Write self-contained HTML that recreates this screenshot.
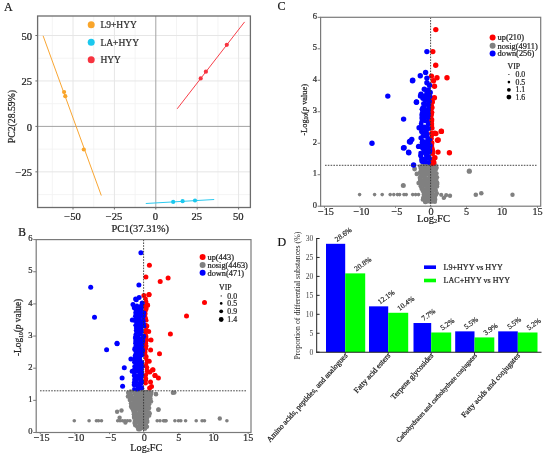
<!DOCTYPE html>
<html><head><meta charset="utf-8"><style>
html,body{margin:0;padding:0;background:#fff;}
svg{display:block;font-family:"Liberation Serif",serif;will-change:transform;filter:blur(0.3px);}
text{stroke:#222;stroke-width:0.22px;}
</style></head><body>
<svg width="550" height="457" viewBox="0 0 550 457">
<rect width="550" height="457" fill="#fff"/>
<line x1="52.30" y1="16.00" x2="52.30" y2="207.50" stroke="#f1f1f1" stroke-width="0.8" stroke-linecap="butt"/>
<line x1="93.70" y1="16.00" x2="93.70" y2="207.50" stroke="#f1f1f1" stroke-width="0.8" stroke-linecap="butt"/>
<line x1="135.10" y1="16.00" x2="135.10" y2="207.50" stroke="#f1f1f1" stroke-width="0.8" stroke-linecap="butt"/>
<line x1="176.50" y1="16.00" x2="176.50" y2="207.50" stroke="#f1f1f1" stroke-width="0.8" stroke-linecap="butt"/>
<line x1="217.90" y1="16.00" x2="217.90" y2="207.50" stroke="#f1f1f1" stroke-width="0.8" stroke-linecap="butt"/>
<line x1="37.60" y1="58.23" x2="250.40" y2="58.23" stroke="#f1f1f1" stroke-width="0.8" stroke-linecap="butt"/>
<line x1="37.60" y1="103.68" x2="250.40" y2="103.68" stroke="#f1f1f1" stroke-width="0.8" stroke-linecap="butt"/>
<line x1="37.60" y1="149.12" x2="250.40" y2="149.12" stroke="#f1f1f1" stroke-width="0.8" stroke-linecap="butt"/>
<line x1="37.60" y1="194.57" x2="250.40" y2="194.57" stroke="#f1f1f1" stroke-width="0.8" stroke-linecap="butt"/>
<line x1="73.00" y1="16.00" x2="73.00" y2="207.50" stroke="#e6e6e6" stroke-width="1" stroke-linecap="butt"/>
<line x1="114.40" y1="16.00" x2="114.40" y2="207.50" stroke="#e6e6e6" stroke-width="1" stroke-linecap="butt"/>
<line x1="197.20" y1="16.00" x2="197.20" y2="207.50" stroke="#e6e6e6" stroke-width="1" stroke-linecap="butt"/>
<line x1="238.60" y1="16.00" x2="238.60" y2="207.50" stroke="#e6e6e6" stroke-width="1" stroke-linecap="butt"/>
<line x1="37.60" y1="35.50" x2="250.40" y2="35.50" stroke="#e6e6e6" stroke-width="1" stroke-linecap="butt"/>
<line x1="37.60" y1="80.95" x2="250.40" y2="80.95" stroke="#e6e6e6" stroke-width="1" stroke-linecap="butt"/>
<line x1="37.60" y1="171.85" x2="250.40" y2="171.85" stroke="#e6e6e6" stroke-width="1" stroke-linecap="butt"/>
<line x1="155.80" y1="16.00" x2="155.80" y2="207.50" stroke="#a3a3a3" stroke-width="1" stroke-linecap="butt"/>
<line x1="37.60" y1="126.40" x2="250.40" y2="126.40" stroke="#a3a3a3" stroke-width="1" stroke-linecap="butt"/>
<line x1="43.10" y1="35.80" x2="101.30" y2="195.50" stroke="#f9a633" stroke-width="1" stroke-linecap="butt"/>
<line x1="177.20" y1="108.80" x2="244.60" y2="21.90" stroke="#f8404a" stroke-width="1" stroke-linecap="butt"/>
<line x1="145.80" y1="203.50" x2="214.20" y2="199.50" stroke="#2ccaf0" stroke-width="1" stroke-linecap="butt"/>
<circle cx="64.10" cy="92.00" r="2.10" fill="#f9a52b"/>
<circle cx="65.30" cy="96.20" r="2.10" fill="#f9a52b"/>
<circle cx="83.80" cy="149.50" r="2.10" fill="#f9a52b"/>
<circle cx="226.80" cy="44.80" r="2.10" fill="#f7333f"/>
<circle cx="205.90" cy="71.70" r="2.10" fill="#f7333f"/>
<circle cx="200.70" cy="78.40" r="2.10" fill="#f7333f"/>
<circle cx="173.20" cy="201.90" r="2.10" fill="#1bc8ee"/>
<circle cx="182.60" cy="201.20" r="2.10" fill="#1bc8ee"/>
<circle cx="195.00" cy="200.50" r="2.10" fill="#1bc8ee"/>
<rect x="37.60" y="16.00" width="212.80" height="191.50" fill="none" stroke="#6c6c6c" stroke-width="1.3"/>
<line x1="35.40" y1="35.50" x2="37.60" y2="35.50" stroke="#6c6c6c" stroke-width="1" stroke-linecap="butt"/>
<text x="32.10" y="39.70" font-size="10.6" text-anchor="end" fill="#222">50</text>
<line x1="35.40" y1="80.95" x2="37.60" y2="80.95" stroke="#6c6c6c" stroke-width="1" stroke-linecap="butt"/>
<text x="32.10" y="85.15" font-size="10.6" text-anchor="end" fill="#222">25</text>
<line x1="35.40" y1="126.40" x2="37.60" y2="126.40" stroke="#6c6c6c" stroke-width="1" stroke-linecap="butt"/>
<text x="32.10" y="130.60" font-size="10.6" text-anchor="end" fill="#222">0</text>
<line x1="35.40" y1="171.85" x2="37.60" y2="171.85" stroke="#6c6c6c" stroke-width="1" stroke-linecap="butt"/>
<text x="32.10" y="176.05" font-size="10.6" text-anchor="end" fill="#222">&#8722;25</text>
<line x1="73.00" y1="207.50" x2="73.00" y2="209.50" stroke="#6c6c6c" stroke-width="1" stroke-linecap="butt"/>
<text x="72.60" y="219.80" font-size="10.6" text-anchor="middle" fill="#222">&#8722;50</text>
<line x1="114.40" y1="207.50" x2="114.40" y2="209.50" stroke="#6c6c6c" stroke-width="1" stroke-linecap="butt"/>
<text x="114.00" y="219.80" font-size="10.6" text-anchor="middle" fill="#222">&#8722;25</text>
<line x1="155.80" y1="207.50" x2="155.80" y2="209.50" stroke="#6c6c6c" stroke-width="1" stroke-linecap="butt"/>
<text x="155.40" y="219.80" font-size="10.6" text-anchor="middle" fill="#222">0</text>
<line x1="197.20" y1="207.50" x2="197.20" y2="209.50" stroke="#6c6c6c" stroke-width="1" stroke-linecap="butt"/>
<text x="196.80" y="219.80" font-size="10.6" text-anchor="middle" fill="#222">25</text>
<line x1="238.60" y1="207.50" x2="238.60" y2="209.50" stroke="#6c6c6c" stroke-width="1" stroke-linecap="butt"/>
<text x="238.20" y="219.80" font-size="10.6" text-anchor="middle" fill="#222">50</text>
<circle cx="91.20" cy="24.80" r="3.50" fill="#f9a52b"/>
<text x="100.40" y="28.10" font-size="9.5" text-anchor="start" fill="#333">L9+HYY</text>
<circle cx="91.20" cy="42.30" r="3.50" fill="#1bc8ee"/>
<text x="100.40" y="45.60" font-size="9.5" text-anchor="start" fill="#333">LA+HYY</text>
<circle cx="91.20" cy="59.80" r="3.50" fill="#f7333f"/>
<text x="100.40" y="63.10" font-size="9.5" text-anchor="start" fill="#333">HYY</text>
<text x="111.50" y="231.80" font-size="10.5" text-anchor="start" fill="#222" textLength="57.40" lengthAdjust="spacingAndGlyphs">PC1(37.31%)</text>
<text x="14.60" y="116.60" font-size="9.8" text-anchor="middle" fill="#222" transform="rotate(-90 14.60 116.60)" textLength="53.40" lengthAdjust="spacingAndGlyphs">PC2(28.59%)</text>
<text x="3.90" y="11.20" font-size="12" text-anchor="start" fill="#111">A</text>
<line x1="317.60" y1="206.20" x2="320.60" y2="206.20" stroke="#7a7a7a" stroke-width="1" stroke-linecap="butt"/>
<text x="317.00" y="207.80" font-size="8.5" text-anchor="end" fill="#333">0</text>
<line x1="317.60" y1="174.72" x2="320.60" y2="174.72" stroke="#7a7a7a" stroke-width="1" stroke-linecap="butt"/>
<text x="317.00" y="176.32" font-size="8.5" text-anchor="end" fill="#333">1</text>
<line x1="317.60" y1="143.24" x2="320.60" y2="143.24" stroke="#7a7a7a" stroke-width="1" stroke-linecap="butt"/>
<text x="317.00" y="144.84" font-size="8.5" text-anchor="end" fill="#333">2</text>
<line x1="317.60" y1="111.76" x2="320.60" y2="111.76" stroke="#7a7a7a" stroke-width="1" stroke-linecap="butt"/>
<text x="317.00" y="113.36" font-size="8.5" text-anchor="end" fill="#333">3</text>
<line x1="317.60" y1="80.28" x2="320.60" y2="80.28" stroke="#7a7a7a" stroke-width="1" stroke-linecap="butt"/>
<text x="317.00" y="81.88" font-size="8.5" text-anchor="end" fill="#333">4</text>
<line x1="317.60" y1="48.80" x2="320.60" y2="48.80" stroke="#7a7a7a" stroke-width="1" stroke-linecap="butt"/>
<text x="317.00" y="50.40" font-size="8.5" text-anchor="end" fill="#333">5</text>
<line x1="317.60" y1="17.32" x2="320.60" y2="17.32" stroke="#7a7a7a" stroke-width="1" stroke-linecap="butt"/>
<text x="317.00" y="18.92" font-size="8.5" text-anchor="end" fill="#333">6</text>
<line x1="324.50" y1="206.20" x2="324.50" y2="207.80" stroke="#7a7a7a" stroke-width="1" stroke-linecap="butt"/>
<text x="325.90" y="214.90" font-size="10.2" text-anchor="middle" fill="#333">&#8722;15</text>
<line x1="360.00" y1="206.20" x2="360.00" y2="207.80" stroke="#7a7a7a" stroke-width="1" stroke-linecap="butt"/>
<text x="361.40" y="214.90" font-size="10.2" text-anchor="middle" fill="#333">&#8722;10</text>
<line x1="395.50" y1="206.20" x2="395.50" y2="207.80" stroke="#7a7a7a" stroke-width="1" stroke-linecap="butt"/>
<text x="396.90" y="214.90" font-size="10.2" text-anchor="middle" fill="#333">&#8722;5</text>
<line x1="431.00" y1="206.20" x2="431.00" y2="207.80" stroke="#7a7a7a" stroke-width="1" stroke-linecap="butt"/>
<text x="431.00" y="214.90" font-size="10.2" text-anchor="middle" fill="#333">0</text>
<line x1="466.50" y1="206.20" x2="466.50" y2="207.80" stroke="#7a7a7a" stroke-width="1" stroke-linecap="butt"/>
<text x="466.50" y="214.90" font-size="10.2" text-anchor="middle" fill="#333">5</text>
<line x1="502.00" y1="206.20" x2="502.00" y2="207.80" stroke="#7a7a7a" stroke-width="1" stroke-linecap="butt"/>
<text x="502.00" y="214.90" font-size="10.2" text-anchor="middle" fill="#333">10</text>
<line x1="537.50" y1="206.20" x2="537.50" y2="207.80" stroke="#7a7a7a" stroke-width="1" stroke-linecap="butt"/>
<text x="537.50" y="214.90" font-size="10.2" text-anchor="middle" fill="#333">15</text>
<circle cx="419.94" cy="166.24" r="2.00" fill="#808080"/>
<circle cx="422.89" cy="165.29" r="2.25" fill="#808080"/>
<circle cx="425.59" cy="165.31" r="2.01" fill="#808080"/>
<circle cx="428.82" cy="165.40" r="2.08" fill="#808080"/>
<circle cx="431.62" cy="166.12" r="2.18" fill="#808080"/>
<circle cx="432.77" cy="166.57" r="2.12" fill="#808080"/>
<circle cx="435.49" cy="165.69" r="2.42" fill="#808080"/>
<circle cx="420.69" cy="168.48" r="2.17" fill="#808080"/>
<circle cx="422.46" cy="167.56" r="2.07" fill="#808080"/>
<circle cx="425.64" cy="167.96" r="2.29" fill="#808080"/>
<circle cx="428.04" cy="168.73" r="2.36" fill="#808080"/>
<circle cx="431.08" cy="168.30" r="2.46" fill="#808080"/>
<circle cx="433.22" cy="169.03" r="2.02" fill="#808080"/>
<circle cx="436.57" cy="167.71" r="2.24" fill="#808080"/>
<circle cx="420.89" cy="170.95" r="2.28" fill="#808080"/>
<circle cx="422.92" cy="170.84" r="2.30" fill="#808080"/>
<circle cx="425.75" cy="171.07" r="2.50" fill="#808080"/>
<circle cx="428.68" cy="169.82" r="2.36" fill="#808080"/>
<circle cx="431.81" cy="171.04" r="2.12" fill="#808080"/>
<circle cx="433.89" cy="169.76" r="2.22" fill="#808080"/>
<circle cx="435.61" cy="169.82" r="2.40" fill="#808080"/>
<circle cx="420.27" cy="172.61" r="2.46" fill="#808080"/>
<circle cx="423.20" cy="172.87" r="2.46" fill="#808080"/>
<circle cx="426.46" cy="172.43" r="2.19" fill="#808080"/>
<circle cx="429.09" cy="173.52" r="2.04" fill="#808080"/>
<circle cx="430.65" cy="172.36" r="2.23" fill="#808080"/>
<circle cx="433.30" cy="171.99" r="2.20" fill="#808080"/>
<circle cx="436.38" cy="173.51" r="2.35" fill="#808080"/>
<circle cx="420.93" cy="175.33" r="1.99" fill="#808080"/>
<circle cx="423.79" cy="175.65" r="2.41" fill="#808080"/>
<circle cx="425.78" cy="174.41" r="2.32" fill="#808080"/>
<circle cx="427.85" cy="174.58" r="2.05" fill="#808080"/>
<circle cx="430.42" cy="174.25" r="2.04" fill="#808080"/>
<circle cx="433.52" cy="174.29" r="2.46" fill="#808080"/>
<circle cx="435.78" cy="174.65" r="2.15" fill="#808080"/>
<circle cx="420.19" cy="177.87" r="2.53" fill="#808080"/>
<circle cx="423.37" cy="176.65" r="2.01" fill="#808080"/>
<circle cx="425.62" cy="177.84" r="2.05" fill="#808080"/>
<circle cx="429.32" cy="177.36" r="2.04" fill="#808080"/>
<circle cx="430.44" cy="177.35" r="2.52" fill="#808080"/>
<circle cx="434.11" cy="176.93" r="2.17" fill="#808080"/>
<circle cx="436.83" cy="177.36" r="2.40" fill="#808080"/>
<circle cx="420.41" cy="180.07" r="2.52" fill="#808080"/>
<circle cx="423.95" cy="180.08" r="2.38" fill="#808080"/>
<circle cx="426.09" cy="179.34" r="1.97" fill="#808080"/>
<circle cx="428.30" cy="179.19" r="2.35" fill="#808080"/>
<circle cx="431.17" cy="180.27" r="2.52" fill="#808080"/>
<circle cx="433.64" cy="179.12" r="2.09" fill="#808080"/>
<circle cx="435.98" cy="179.77" r="2.47" fill="#808080"/>
<circle cx="420.88" cy="182.08" r="2.41" fill="#808080"/>
<circle cx="423.77" cy="182.49" r="2.40" fill="#808080"/>
<circle cx="426.08" cy="181.32" r="2.41" fill="#808080"/>
<circle cx="429.20" cy="182.59" r="2.18" fill="#808080"/>
<circle cx="432.03" cy="182.19" r="2.05" fill="#808080"/>
<circle cx="433.36" cy="182.48" r="2.42" fill="#808080"/>
<circle cx="437.04" cy="182.60" r="2.33" fill="#808080"/>
<circle cx="421.05" cy="183.51" r="1.96" fill="#808080"/>
<circle cx="423.82" cy="184.14" r="2.49" fill="#808080"/>
<circle cx="426.77" cy="184.62" r="2.08" fill="#808080"/>
<circle cx="428.44" cy="183.68" r="2.29" fill="#808080"/>
<circle cx="431.25" cy="183.51" r="2.48" fill="#808080"/>
<circle cx="433.91" cy="184.23" r="2.47" fill="#808080"/>
<circle cx="437.24" cy="184.10" r="2.26" fill="#808080"/>
<circle cx="420.55" cy="186.26" r="2.06" fill="#808080"/>
<circle cx="424.40" cy="185.83" r="2.23" fill="#808080"/>
<circle cx="426.61" cy="186.08" r="2.25" fill="#808080"/>
<circle cx="429.57" cy="185.73" r="2.28" fill="#808080"/>
<circle cx="431.36" cy="186.79" r="2.25" fill="#808080"/>
<circle cx="434.73" cy="187.02" r="2.21" fill="#808080"/>
<circle cx="436.93" cy="186.38" r="2.35" fill="#808080"/>
<circle cx="421.90" cy="188.58" r="2.50" fill="#808080"/>
<circle cx="425.05" cy="189.33" r="2.10" fill="#808080"/>
<circle cx="427.75" cy="189.16" r="2.03" fill="#808080"/>
<circle cx="429.55" cy="187.94" r="2.09" fill="#808080"/>
<circle cx="432.52" cy="189.07" r="2.47" fill="#808080"/>
<circle cx="435.19" cy="188.88" r="2.04" fill="#808080"/>
<circle cx="423.12" cy="190.43" r="2.50" fill="#808080"/>
<circle cx="424.95" cy="191.67" r="2.43" fill="#808080"/>
<circle cx="427.46" cy="190.91" r="2.15" fill="#808080"/>
<circle cx="429.88" cy="191.24" r="1.97" fill="#808080"/>
<circle cx="432.68" cy="190.11" r="2.15" fill="#808080"/>
<circle cx="435.39" cy="190.18" r="2.52" fill="#808080"/>
<circle cx="423.65" cy="192.51" r="2.11" fill="#808080"/>
<circle cx="425.95" cy="192.78" r="2.03" fill="#808080"/>
<circle cx="428.76" cy="193.65" r="2.10" fill="#808080"/>
<circle cx="431.37" cy="193.26" r="2.36" fill="#808080"/>
<circle cx="432.59" cy="193.45" r="2.20" fill="#808080"/>
<circle cx="436.60" cy="193.36" r="2.42" fill="#808080"/>
<circle cx="424.00" cy="194.71" r="2.45" fill="#808080"/>
<circle cx="425.77" cy="195.49" r="2.49" fill="#808080"/>
<circle cx="428.03" cy="195.45" r="2.09" fill="#808080"/>
<circle cx="430.69" cy="194.69" r="2.07" fill="#808080"/>
<circle cx="433.52" cy="195.82" r="2.12" fill="#808080"/>
<circle cx="435.91" cy="195.16" r="1.97" fill="#808080"/>
<circle cx="423.18" cy="198.04" r="2.27" fill="#808080"/>
<circle cx="426.52" cy="198.36" r="2.02" fill="#808080"/>
<circle cx="429.05" cy="197.66" r="2.43" fill="#808080"/>
<circle cx="431.77" cy="197.97" r="2.52" fill="#808080"/>
<circle cx="434.89" cy="198.00" r="2.32" fill="#808080"/>
<circle cx="424.24" cy="199.22" r="2.03" fill="#808080"/>
<circle cx="427.47" cy="199.54" r="2.05" fill="#808080"/>
<circle cx="430.23" cy="200.52" r="2.34" fill="#808080"/>
<circle cx="431.87" cy="199.60" r="2.22" fill="#808080"/>
<circle cx="434.80" cy="199.55" r="2.51" fill="#808080"/>
<circle cx="425.40" cy="201.78" r="2.51" fill="#808080"/>
<circle cx="427.69" cy="201.39" r="2.17" fill="#808080"/>
<circle cx="430.53" cy="201.71" r="2.25" fill="#808080"/>
<circle cx="432.74" cy="201.54" r="2.18" fill="#808080"/>
<circle cx="434.96" cy="201.88" r="2.09" fill="#808080"/>
<circle cx="359.60" cy="194.60" r="1.80" fill="#808080"/>
<circle cx="374.60" cy="194.60" r="1.80" fill="#808080"/>
<circle cx="382.20" cy="194.60" r="1.80" fill="#808080"/>
<circle cx="390.20" cy="194.60" r="1.80" fill="#808080"/>
<circle cx="393.80" cy="194.60" r="1.80" fill="#808080"/>
<circle cx="397.50" cy="194.60" r="1.80" fill="#808080"/>
<circle cx="399.60" cy="194.60" r="1.80" fill="#808080"/>
<circle cx="404.00" cy="194.60" r="1.80" fill="#808080"/>
<circle cx="406.20" cy="194.60" r="1.80" fill="#808080"/>
<circle cx="412.70" cy="194.60" r="1.80" fill="#808080"/>
<circle cx="415.60" cy="194.60" r="1.80" fill="#808080"/>
<circle cx="418.50" cy="194.60" r="1.80" fill="#808080"/>
<circle cx="441.20" cy="194.80" r="2.10" fill="#808080"/>
<circle cx="446.20" cy="195.20" r="2.10" fill="#808080"/>
<circle cx="450.00" cy="195.80" r="2.20" fill="#808080"/>
<circle cx="512.50" cy="194.70" r="2.20" fill="#808080"/>
<circle cx="475.80" cy="194.70" r="2.30" fill="#808080"/>
<circle cx="481.30" cy="193.20" r="2.30" fill="#808080"/>
<circle cx="403.30" cy="185.60" r="2.50" fill="#808080"/>
<circle cx="414.60" cy="169.00" r="2.40" fill="#808080"/>
<circle cx="416.90" cy="173.90" r="2.40" fill="#808080"/>
<circle cx="418.60" cy="183.10" r="2.30" fill="#808080"/>
<circle cx="443.70" cy="198.00" r="2.10" fill="#808080"/>
<circle cx="422.60" cy="199.70" r="2.00" fill="#808080"/>
<circle cx="469.30" cy="171.20" r="2.60" fill="#808080"/>
<circle cx="444.20" cy="197.60" r="2.00" fill="#808080"/>
<circle cx="431.44" cy="98.35" r="2.54" fill="#ff0000"/>
<circle cx="431.95" cy="100.19" r="2.33" fill="#ff0000"/>
<circle cx="431.78" cy="105.25" r="2.15" fill="#ff0000"/>
<circle cx="432.04" cy="107.57" r="2.58" fill="#ff0000"/>
<circle cx="431.01" cy="109.78" r="2.44" fill="#ff0000"/>
<circle cx="431.96" cy="112.55" r="2.49" fill="#ff0000"/>
<circle cx="431.81" cy="114.71" r="2.27" fill="#ff0000"/>
<circle cx="431.07" cy="116.60" r="2.19" fill="#ff0000"/>
<circle cx="431.68" cy="119.32" r="2.52" fill="#ff0000"/>
<circle cx="431.61" cy="120.79" r="2.62" fill="#ff0000"/>
<circle cx="431.65" cy="123.89" r="2.54" fill="#ff0000"/>
<circle cx="432.00" cy="125.84" r="2.17" fill="#ff0000"/>
<circle cx="432.01" cy="128.12" r="2.59" fill="#ff0000"/>
<circle cx="431.57" cy="133.21" r="2.55" fill="#ff0000"/>
<circle cx="431.92" cy="135.78" r="2.17" fill="#ff0000"/>
<circle cx="431.44" cy="138.27" r="2.32" fill="#ff0000"/>
<circle cx="431.13" cy="139.67" r="2.29" fill="#ff0000"/>
<circle cx="432.22" cy="142.88" r="2.31" fill="#ff0000"/>
<circle cx="432.04" cy="144.93" r="2.20" fill="#ff0000"/>
<circle cx="431.81" cy="148.00" r="2.71" fill="#ff0000"/>
<circle cx="432.31" cy="150.13" r="2.73" fill="#ff0000"/>
<circle cx="432.18" cy="151.62" r="2.72" fill="#ff0000"/>
<circle cx="432.75" cy="153.87" r="2.45" fill="#ff0000"/>
<circle cx="433.36" cy="159.09" r="2.68" fill="#ff0000"/>
<circle cx="432.67" cy="161.98" r="2.43" fill="#ff0000"/>
<circle cx="432.49" cy="163.76" r="2.41" fill="#ff0000"/>
<circle cx="435.80" cy="29.60" r="2.70" fill="#ff0000"/>
<circle cx="432.80" cy="51.60" r="2.70" fill="#ff0000"/>
<circle cx="435.70" cy="65.30" r="2.70" fill="#ff0000"/>
<circle cx="431.50" cy="76.10" r="2.70" fill="#ff0000"/>
<circle cx="437.00" cy="77.70" r="2.70" fill="#ff0000"/>
<circle cx="447.00" cy="77.70" r="2.70" fill="#ff0000"/>
<circle cx="433.50" cy="80.70" r="2.70" fill="#ff0000"/>
<circle cx="434.50" cy="86.20" r="2.70" fill="#ff0000"/>
<circle cx="434.40" cy="97.80" r="2.70" fill="#ff0000"/>
<circle cx="432.30" cy="101.90" r="2.70" fill="#ff0000"/>
<circle cx="441.30" cy="131.30" r="2.70" fill="#ff0000"/>
<circle cx="434.90" cy="133.30" r="2.70" fill="#ff0000"/>
<circle cx="437.50" cy="140.20" r="2.70" fill="#ff0000"/>
<circle cx="438.00" cy="152.10" r="2.70" fill="#ff0000"/>
<circle cx="449.40" cy="152.70" r="2.70" fill="#ff0000"/>
<circle cx="434.90" cy="157.80" r="2.70" fill="#ff0000"/>
<circle cx="433.80" cy="162.40" r="2.70" fill="#ff0000"/>
<circle cx="441.40" cy="131.40" r="2.70" fill="#ff0000"/>
<circle cx="438.20" cy="140.00" r="2.70" fill="#ff0000"/>
<circle cx="435.90" cy="133.60" r="2.70" fill="#ff0000"/>
<circle cx="422.85" cy="95.72" r="2.32" fill="#0000ff"/>
<circle cx="425.30" cy="96.45" r="2.65" fill="#0000ff"/>
<circle cx="429.67" cy="96.38" r="2.69" fill="#0000ff"/>
<circle cx="423.01" cy="98.16" r="2.75" fill="#0000ff"/>
<circle cx="425.69" cy="98.22" r="2.30" fill="#0000ff"/>
<circle cx="427.92" cy="98.95" r="2.30" fill="#0000ff"/>
<circle cx="425.26" cy="100.72" r="2.24" fill="#0000ff"/>
<circle cx="429.20" cy="101.39" r="2.63" fill="#0000ff"/>
<circle cx="423.46" cy="103.84" r="2.47" fill="#0000ff"/>
<circle cx="424.61" cy="103.47" r="2.41" fill="#0000ff"/>
<circle cx="428.38" cy="102.66" r="2.16" fill="#0000ff"/>
<circle cx="425.14" cy="105.11" r="2.31" fill="#0000ff"/>
<circle cx="428.75" cy="104.96" r="2.53" fill="#0000ff"/>
<circle cx="422.53" cy="107.55" r="2.23" fill="#0000ff"/>
<circle cx="424.61" cy="108.48" r="2.44" fill="#0000ff"/>
<circle cx="428.56" cy="108.64" r="2.41" fill="#0000ff"/>
<circle cx="421.82" cy="109.36" r="2.34" fill="#0000ff"/>
<circle cx="424.60" cy="109.66" r="2.48" fill="#0000ff"/>
<circle cx="428.22" cy="109.94" r="2.38" fill="#0000ff"/>
<circle cx="422.09" cy="112.15" r="2.16" fill="#0000ff"/>
<circle cx="425.86" cy="111.77" r="2.44" fill="#0000ff"/>
<circle cx="428.37" cy="111.93" r="2.29" fill="#0000ff"/>
<circle cx="422.07" cy="114.69" r="2.72" fill="#0000ff"/>
<circle cx="425.63" cy="113.93" r="2.15" fill="#0000ff"/>
<circle cx="428.37" cy="114.74" r="2.49" fill="#0000ff"/>
<circle cx="422.00" cy="117.91" r="2.64" fill="#0000ff"/>
<circle cx="425.75" cy="116.69" r="2.19" fill="#0000ff"/>
<circle cx="427.64" cy="117.47" r="2.71" fill="#0000ff"/>
<circle cx="422.40" cy="119.97" r="2.41" fill="#0000ff"/>
<circle cx="424.01" cy="120.00" r="2.27" fill="#0000ff"/>
<circle cx="421.73" cy="121.17" r="2.28" fill="#0000ff"/>
<circle cx="425.14" cy="121.14" r="2.17" fill="#0000ff"/>
<circle cx="427.63" cy="121.64" r="2.26" fill="#0000ff"/>
<circle cx="421.14" cy="123.83" r="2.41" fill="#0000ff"/>
<circle cx="428.11" cy="124.14" r="2.27" fill="#0000ff"/>
<circle cx="422.78" cy="126.91" r="2.32" fill="#0000ff"/>
<circle cx="424.65" cy="126.85" r="2.39" fill="#0000ff"/>
<circle cx="427.65" cy="127.30" r="2.27" fill="#0000ff"/>
<circle cx="421.58" cy="128.74" r="2.55" fill="#0000ff"/>
<circle cx="425.11" cy="129.32" r="2.44" fill="#0000ff"/>
<circle cx="428.12" cy="128.55" r="2.64" fill="#0000ff"/>
<circle cx="421.29" cy="131.70" r="2.31" fill="#0000ff"/>
<circle cx="426.63" cy="130.74" r="2.39" fill="#0000ff"/>
<circle cx="422.52" cy="132.95" r="2.37" fill="#0000ff"/>
<circle cx="425.27" cy="132.94" r="2.16" fill="#0000ff"/>
<circle cx="426.92" cy="134.30" r="2.68" fill="#0000ff"/>
<circle cx="422.53" cy="136.71" r="2.33" fill="#0000ff"/>
<circle cx="425.12" cy="136.38" r="2.14" fill="#0000ff"/>
<circle cx="426.82" cy="135.71" r="2.33" fill="#0000ff"/>
<circle cx="420.66" cy="137.89" r="2.34" fill="#0000ff"/>
<circle cx="427.79" cy="137.76" r="2.35" fill="#0000ff"/>
<circle cx="422.07" cy="140.51" r="2.16" fill="#0000ff"/>
<circle cx="423.96" cy="141.39" r="2.25" fill="#0000ff"/>
<circle cx="427.60" cy="139.79" r="2.38" fill="#0000ff"/>
<circle cx="430.07" cy="139.80" r="2.15" fill="#0000ff"/>
<circle cx="422.19" cy="142.54" r="2.59" fill="#0000ff"/>
<circle cx="423.85" cy="142.57" r="2.72" fill="#0000ff"/>
<circle cx="426.41" cy="143.37" r="2.32" fill="#0000ff"/>
<circle cx="428.64" cy="143.44" r="2.70" fill="#0000ff"/>
<circle cx="422.19" cy="144.47" r="2.27" fill="#0000ff"/>
<circle cx="424.91" cy="146.15" r="2.37" fill="#0000ff"/>
<circle cx="426.66" cy="145.32" r="2.71" fill="#0000ff"/>
<circle cx="430.03" cy="145.76" r="2.64" fill="#0000ff"/>
<circle cx="421.53" cy="147.37" r="2.32" fill="#0000ff"/>
<circle cx="424.55" cy="146.92" r="2.25" fill="#0000ff"/>
<circle cx="426.29" cy="146.89" r="2.15" fill="#0000ff"/>
<circle cx="429.13" cy="148.54" r="2.68" fill="#0000ff"/>
<circle cx="423.24" cy="149.30" r="2.44" fill="#0000ff"/>
<circle cx="426.60" cy="149.55" r="2.39" fill="#0000ff"/>
<circle cx="429.70" cy="150.47" r="2.65" fill="#0000ff"/>
<circle cx="420.56" cy="152.99" r="2.31" fill="#0000ff"/>
<circle cx="423.71" cy="152.80" r="2.25" fill="#0000ff"/>
<circle cx="426.18" cy="151.75" r="2.68" fill="#0000ff"/>
<circle cx="429.03" cy="152.19" r="2.75" fill="#0000ff"/>
<circle cx="420.71" cy="155.28" r="2.53" fill="#0000ff"/>
<circle cx="426.55" cy="155.30" r="2.65" fill="#0000ff"/>
<circle cx="420.77" cy="156.39" r="2.24" fill="#0000ff"/>
<circle cx="427.32" cy="156.84" r="2.67" fill="#0000ff"/>
<circle cx="428.81" cy="157.57" r="2.72" fill="#0000ff"/>
<circle cx="421.27" cy="159.64" r="2.26" fill="#0000ff"/>
<circle cx="423.15" cy="158.89" r="2.28" fill="#0000ff"/>
<circle cx="426.77" cy="158.89" r="2.13" fill="#0000ff"/>
<circle cx="429.52" cy="158.86" r="2.32" fill="#0000ff"/>
<circle cx="421.58" cy="161.86" r="2.16" fill="#0000ff"/>
<circle cx="423.56" cy="161.86" r="2.52" fill="#0000ff"/>
<circle cx="425.84" cy="162.12" r="2.38" fill="#0000ff"/>
<circle cx="428.80" cy="162.59" r="2.32" fill="#0000ff"/>
<circle cx="426.90" cy="51.60" r="2.70" fill="#0000ff"/>
<circle cx="387.80" cy="96.10" r="2.70" fill="#0000ff"/>
<circle cx="372.00" cy="143.20" r="2.70" fill="#0000ff"/>
<circle cx="412.50" cy="80.80" r="2.70" fill="#0000ff"/>
<circle cx="410.30" cy="142.00" r="2.70" fill="#0000ff"/>
<circle cx="416.50" cy="102.00" r="2.70" fill="#0000ff"/>
<circle cx="425.60" cy="72.40" r="2.70" fill="#0000ff"/>
<circle cx="420.30" cy="75.70" r="2.70" fill="#0000ff"/>
<circle cx="412.70" cy="80.30" r="2.70" fill="#0000ff"/>
<circle cx="426.90" cy="78.10" r="2.70" fill="#0000ff"/>
<circle cx="426.90" cy="82.70" r="2.70" fill="#0000ff"/>
<circle cx="429.50" cy="85.30" r="2.70" fill="#0000ff"/>
<circle cx="424.30" cy="89.20" r="2.70" fill="#0000ff"/>
<circle cx="428.20" cy="89.90" r="2.70" fill="#0000ff"/>
<circle cx="421.00" cy="94.10" r="2.70" fill="#0000ff"/>
<circle cx="426.90" cy="93.20" r="2.70" fill="#0000ff"/>
<circle cx="430.20" cy="92.50" r="2.70" fill="#0000ff"/>
<circle cx="426.90" cy="97.80" r="2.70" fill="#0000ff"/>
<circle cx="416.40" cy="102.30" r="2.70" fill="#0000ff"/>
<circle cx="403.60" cy="119.10" r="2.70" fill="#0000ff"/>
<circle cx="420.50" cy="95.90" r="2.70" fill="#0000ff"/>
<circle cx="419.10" cy="127.70" r="2.70" fill="#0000ff"/>
<circle cx="411.80" cy="139.50" r="2.70" fill="#0000ff"/>
<circle cx="409.50" cy="141.80" r="2.70" fill="#0000ff"/>
<circle cx="404.10" cy="147.70" r="2.70" fill="#0000ff"/>
<circle cx="408.60" cy="152.30" r="2.70" fill="#0000ff"/>
<circle cx="418.60" cy="146.40" r="2.70" fill="#0000ff"/>
<circle cx="413.60" cy="165.00" r="2.70" fill="#0000ff"/>
<circle cx="408.80" cy="152.70" r="2.70" fill="#0000ff"/>
<circle cx="403.50" cy="147.90" r="2.70" fill="#0000ff"/>
<circle cx="410.10" cy="141.30" r="2.70" fill="#0000ff"/>
<line x1="430.60" y1="17.30" x2="430.60" y2="206.20" stroke="#333" stroke-width="0.9" stroke-dasharray="1.6 1.2" stroke-linecap="butt"/>
<line x1="325.00" y1="165.30" x2="536.50" y2="165.30" stroke="#333" stroke-width="0.9" stroke-dasharray="1.6 1.2" stroke-linecap="butt"/>
<rect x="320.60" y="17.30" width="220.10" height="188.90" fill="none" stroke="#7a7a7a" stroke-width="1.2"/>
<circle cx="492.60" cy="37.60" r="3.00" fill="#ff0000"/>
<text x="497.50" y="40.40" font-size="8.4" text-anchor="start" fill="#222">up(210)</text>
<circle cx="492.60" cy="45.70" r="3.00" fill="#808080"/>
<text x="497.50" y="48.50" font-size="8.4" text-anchor="start" fill="#222">nosig(4911)</text>
<circle cx="492.60" cy="53.50" r="3.00" fill="#0000ff"/>
<text x="497.50" y="56.30" font-size="8.4" text-anchor="start" fill="#222">down(256)</text>
<text x="513.80" y="68.90" font-size="7.8" text-anchor="middle" fill="#222">VIP</text>
<circle cx="508.90" cy="74.50" r="0.60" fill="#000"/>
<text x="515.50" y="77.10" font-size="7.8" text-anchor="start" fill="#222">0.0</text>
<circle cx="508.90" cy="82.10" r="1.30" fill="#000"/>
<text x="515.50" y="84.70" font-size="7.8" text-anchor="start" fill="#222">0.5</text>
<circle cx="508.90" cy="89.80" r="1.90" fill="#000"/>
<text x="515.50" y="92.40" font-size="7.8" text-anchor="start" fill="#222">1.1</text>
<circle cx="508.90" cy="97.10" r="2.40" fill="#000"/>
<text x="515.50" y="99.70" font-size="7.8" text-anchor="start" fill="#222">1.6</text>
<text x="417.00" y="222.00" font-size="10" text-anchor="start" fill="#222" textLength="33.00" lengthAdjust="spacingAndGlyphs">Log<tspan font-size="5.8" dy="0.8">2</tspan><tspan dy="-0.8">FC</tspan></text>
<text x="306.80" y="109.80" font-size="8.35" text-anchor="middle" fill="#222" transform="rotate(-90 306.80 109.80)">-Log<tspan font-size="5.5" dy="1.5">10</tspan><tspan dy="-1.5">(</tspan><tspan font-style="italic">p</tspan> value)</text>
<text x="277.60" y="10.30" font-size="12" text-anchor="start" fill="#111">C</text>
<line x1="33.20" y1="432.50" x2="36.20" y2="432.50" stroke="#7a7a7a" stroke-width="1" stroke-linecap="butt"/>
<text x="32.60" y="434.10" font-size="8.5" text-anchor="end" fill="#333">0</text>
<line x1="33.20" y1="400.35" x2="36.20" y2="400.35" stroke="#7a7a7a" stroke-width="1" stroke-linecap="butt"/>
<text x="32.60" y="401.95" font-size="8.5" text-anchor="end" fill="#333">1</text>
<line x1="33.20" y1="368.20" x2="36.20" y2="368.20" stroke="#7a7a7a" stroke-width="1" stroke-linecap="butt"/>
<text x="32.60" y="369.80" font-size="8.5" text-anchor="end" fill="#333">2</text>
<line x1="33.20" y1="336.05" x2="36.20" y2="336.05" stroke="#7a7a7a" stroke-width="1" stroke-linecap="butt"/>
<text x="32.60" y="337.65" font-size="8.5" text-anchor="end" fill="#333">3</text>
<line x1="33.20" y1="303.90" x2="36.20" y2="303.90" stroke="#7a7a7a" stroke-width="1" stroke-linecap="butt"/>
<text x="32.60" y="305.50" font-size="8.5" text-anchor="end" fill="#333">4</text>
<line x1="33.20" y1="271.75" x2="36.20" y2="271.75" stroke="#7a7a7a" stroke-width="1" stroke-linecap="butt"/>
<text x="32.60" y="273.35" font-size="8.5" text-anchor="end" fill="#333">5</text>
<line x1="33.20" y1="239.60" x2="36.20" y2="239.60" stroke="#7a7a7a" stroke-width="1" stroke-linecap="butt"/>
<text x="32.60" y="241.20" font-size="8.5" text-anchor="end" fill="#333">6</text>
<line x1="40.25" y1="432.50" x2="40.25" y2="434.10" stroke="#7a7a7a" stroke-width="1" stroke-linecap="butt"/>
<text x="41.65" y="441.20" font-size="10.2" text-anchor="middle" fill="#333">&#8722;15</text>
<line x1="74.90" y1="432.50" x2="74.90" y2="434.10" stroke="#7a7a7a" stroke-width="1" stroke-linecap="butt"/>
<text x="76.30" y="441.20" font-size="10.2" text-anchor="middle" fill="#333">&#8722;10</text>
<line x1="109.55" y1="432.50" x2="109.55" y2="434.10" stroke="#7a7a7a" stroke-width="1" stroke-linecap="butt"/>
<text x="110.95" y="441.20" font-size="10.2" text-anchor="middle" fill="#333">&#8722;5</text>
<line x1="144.20" y1="432.50" x2="144.20" y2="434.10" stroke="#7a7a7a" stroke-width="1" stroke-linecap="butt"/>
<text x="144.20" y="441.20" font-size="10.2" text-anchor="middle" fill="#333">0</text>
<line x1="178.85" y1="432.50" x2="178.85" y2="434.10" stroke="#7a7a7a" stroke-width="1" stroke-linecap="butt"/>
<text x="178.85" y="441.20" font-size="10.2" text-anchor="middle" fill="#333">5</text>
<line x1="213.50" y1="432.50" x2="213.50" y2="434.10" stroke="#7a7a7a" stroke-width="1" stroke-linecap="butt"/>
<text x="213.50" y="441.20" font-size="10.2" text-anchor="middle" fill="#333">10</text>
<line x1="248.15" y1="432.50" x2="248.15" y2="434.10" stroke="#7a7a7a" stroke-width="1" stroke-linecap="butt"/>
<text x="248.15" y="441.20" font-size="10.2" text-anchor="middle" fill="#333">15</text>
<circle cx="128.10" cy="392.68" r="2.13" fill="#808080"/>
<circle cx="130.64" cy="391.50" r="2.15" fill="#808080"/>
<circle cx="133.47" cy="391.35" r="2.04" fill="#808080"/>
<circle cx="136.00" cy="392.31" r="1.89" fill="#808080"/>
<circle cx="138.74" cy="392.25" r="2.21" fill="#808080"/>
<circle cx="139.72" cy="392.05" r="1.90" fill="#808080"/>
<circle cx="142.59" cy="391.25" r="2.13" fill="#808080"/>
<circle cx="146.05" cy="392.03" r="2.22" fill="#808080"/>
<circle cx="148.26" cy="391.93" r="2.02" fill="#808080"/>
<circle cx="151.29" cy="392.54" r="2.26" fill="#808080"/>
<circle cx="128.44" cy="393.84" r="1.91" fill="#808080"/>
<circle cx="131.21" cy="394.73" r="2.08" fill="#808080"/>
<circle cx="134.43" cy="393.38" r="1.99" fill="#808080"/>
<circle cx="136.32" cy="394.94" r="2.09" fill="#808080"/>
<circle cx="139.08" cy="394.62" r="2.02" fill="#808080"/>
<circle cx="141.10" cy="394.92" r="2.29" fill="#808080"/>
<circle cx="143.46" cy="393.54" r="1.90" fill="#808080"/>
<circle cx="145.85" cy="394.27" r="2.12" fill="#808080"/>
<circle cx="149.24" cy="393.58" r="2.22" fill="#808080"/>
<circle cx="151.24" cy="393.72" r="2.02" fill="#808080"/>
<circle cx="130.23" cy="396.04" r="2.36" fill="#808080"/>
<circle cx="132.07" cy="396.92" r="2.22" fill="#808080"/>
<circle cx="135.52" cy="395.89" r="2.01" fill="#808080"/>
<circle cx="136.97" cy="396.02" r="1.91" fill="#808080"/>
<circle cx="139.87" cy="395.94" r="2.20" fill="#808080"/>
<circle cx="142.17" cy="397.08" r="2.14" fill="#808080"/>
<circle cx="145.33" cy="395.84" r="1.95" fill="#808080"/>
<circle cx="147.75" cy="395.95" r="1.97" fill="#808080"/>
<circle cx="150.44" cy="395.86" r="2.39" fill="#808080"/>
<circle cx="130.45" cy="398.40" r="1.93" fill="#808080"/>
<circle cx="133.53" cy="398.11" r="2.26" fill="#808080"/>
<circle cx="135.80" cy="398.68" r="2.03" fill="#808080"/>
<circle cx="138.14" cy="397.84" r="2.00" fill="#808080"/>
<circle cx="140.85" cy="398.71" r="2.02" fill="#808080"/>
<circle cx="142.31" cy="397.75" r="2.02" fill="#808080"/>
<circle cx="144.58" cy="398.01" r="2.07" fill="#808080"/>
<circle cx="147.20" cy="398.30" r="2.36" fill="#808080"/>
<circle cx="150.54" cy="398.83" r="2.19" fill="#808080"/>
<circle cx="129.95" cy="399.93" r="2.37" fill="#808080"/>
<circle cx="133.93" cy="399.93" r="2.22" fill="#808080"/>
<circle cx="136.06" cy="400.41" r="2.42" fill="#808080"/>
<circle cx="138.27" cy="401.08" r="2.37" fill="#808080"/>
<circle cx="141.02" cy="401.17" r="2.37" fill="#808080"/>
<circle cx="143.49" cy="401.34" r="2.35" fill="#808080"/>
<circle cx="146.16" cy="401.28" r="2.19" fill="#808080"/>
<circle cx="148.01" cy="400.83" r="2.20" fill="#808080"/>
<circle cx="150.92" cy="401.49" r="2.35" fill="#808080"/>
<circle cx="130.92" cy="403.25" r="2.19" fill="#808080"/>
<circle cx="134.14" cy="402.21" r="2.28" fill="#808080"/>
<circle cx="136.26" cy="402.84" r="2.00" fill="#808080"/>
<circle cx="138.60" cy="403.06" r="2.38" fill="#808080"/>
<circle cx="140.32" cy="402.56" r="2.24" fill="#808080"/>
<circle cx="143.07" cy="403.52" r="2.23" fill="#808080"/>
<circle cx="146.73" cy="402.60" r="2.24" fill="#808080"/>
<circle cx="148.49" cy="403.36" r="2.37" fill="#808080"/>
<circle cx="131.33" cy="405.18" r="2.04" fill="#808080"/>
<circle cx="134.01" cy="405.59" r="2.34" fill="#808080"/>
<circle cx="137.24" cy="404.69" r="1.96" fill="#808080"/>
<circle cx="138.66" cy="404.59" r="2.10" fill="#808080"/>
<circle cx="141.51" cy="404.75" r="2.33" fill="#808080"/>
<circle cx="143.94" cy="404.37" r="1.89" fill="#808080"/>
<circle cx="145.78" cy="405.38" r="2.18" fill="#808080"/>
<circle cx="149.48" cy="404.28" r="1.94" fill="#808080"/>
<circle cx="131.53" cy="407.75" r="2.00" fill="#808080"/>
<circle cx="134.07" cy="407.43" r="2.12" fill="#808080"/>
<circle cx="137.54" cy="407.72" r="2.40" fill="#808080"/>
<circle cx="139.31" cy="407.19" r="1.97" fill="#808080"/>
<circle cx="142.25" cy="407.57" r="1.97" fill="#808080"/>
<circle cx="144.55" cy="407.54" r="2.16" fill="#808080"/>
<circle cx="147.70" cy="407.05" r="2.31" fill="#808080"/>
<circle cx="149.13" cy="407.92" r="2.27" fill="#808080"/>
<circle cx="133.00" cy="409.60" r="2.37" fill="#808080"/>
<circle cx="135.68" cy="410.01" r="2.31" fill="#808080"/>
<circle cx="138.01" cy="409.64" r="1.98" fill="#808080"/>
<circle cx="141.08" cy="409.63" r="2.26" fill="#808080"/>
<circle cx="143.71" cy="410.17" r="2.41" fill="#808080"/>
<circle cx="146.04" cy="409.11" r="2.37" fill="#808080"/>
<circle cx="147.83" cy="408.73" r="2.11" fill="#808080"/>
<circle cx="134.28" cy="411.55" r="1.89" fill="#808080"/>
<circle cx="135.65" cy="412.05" r="1.97" fill="#808080"/>
<circle cx="139.31" cy="411.00" r="1.95" fill="#808080"/>
<circle cx="141.71" cy="412.12" r="2.25" fill="#808080"/>
<circle cx="143.84" cy="412.29" r="1.92" fill="#808080"/>
<circle cx="146.39" cy="411.24" r="2.27" fill="#808080"/>
<circle cx="148.88" cy="412.12" r="2.18" fill="#808080"/>
<circle cx="133.98" cy="414.30" r="2.37" fill="#808080"/>
<circle cx="137.24" cy="414.50" r="2.16" fill="#808080"/>
<circle cx="138.70" cy="413.81" r="2.15" fill="#808080"/>
<circle cx="140.92" cy="414.50" r="2.15" fill="#808080"/>
<circle cx="144.66" cy="413.85" r="2.14" fill="#808080"/>
<circle cx="145.98" cy="413.81" r="2.10" fill="#808080"/>
<circle cx="149.85" cy="413.38" r="2.13" fill="#808080"/>
<circle cx="134.29" cy="416.43" r="2.37" fill="#808080"/>
<circle cx="136.60" cy="415.43" r="2.21" fill="#808080"/>
<circle cx="138.80" cy="416.37" r="1.88" fill="#808080"/>
<circle cx="141.46" cy="416.22" r="2.05" fill="#808080"/>
<circle cx="144.58" cy="415.29" r="2.27" fill="#808080"/>
<circle cx="146.91" cy="415.53" r="1.98" fill="#808080"/>
<circle cx="149.29" cy="415.73" r="2.10" fill="#808080"/>
<circle cx="134.07" cy="417.63" r="2.22" fill="#808080"/>
<circle cx="137.16" cy="418.66" r="2.21" fill="#808080"/>
<circle cx="139.18" cy="418.49" r="2.32" fill="#808080"/>
<circle cx="141.82" cy="417.80" r="2.38" fill="#808080"/>
<circle cx="145.41" cy="418.72" r="1.94" fill="#808080"/>
<circle cx="147.47" cy="417.72" r="1.92" fill="#808080"/>
<circle cx="134.70" cy="420.74" r="1.94" fill="#808080"/>
<circle cx="137.62" cy="419.50" r="1.98" fill="#808080"/>
<circle cx="140.49" cy="421.02" r="1.93" fill="#808080"/>
<circle cx="142.74" cy="420.28" r="2.25" fill="#808080"/>
<circle cx="144.14" cy="419.64" r="1.89" fill="#808080"/>
<circle cx="147.35" cy="420.38" r="1.95" fill="#808080"/>
<circle cx="134.71" cy="422.99" r="2.41" fill="#808080"/>
<circle cx="137.04" cy="421.75" r="2.39" fill="#808080"/>
<circle cx="140.61" cy="422.17" r="2.13" fill="#808080"/>
<circle cx="142.58" cy="422.61" r="1.88" fill="#808080"/>
<circle cx="145.74" cy="421.94" r="2.12" fill="#808080"/>
<circle cx="147.54" cy="421.96" r="1.96" fill="#808080"/>
<circle cx="135.32" cy="425.25" r="2.31" fill="#808080"/>
<circle cx="139.17" cy="424.83" r="2.09" fill="#808080"/>
<circle cx="141.10" cy="425.40" r="2.31" fill="#808080"/>
<circle cx="144.25" cy="425.02" r="2.30" fill="#808080"/>
<circle cx="145.94" cy="425.26" r="2.35" fill="#808080"/>
<circle cx="137.43" cy="427.22" r="2.09" fill="#808080"/>
<circle cx="138.81" cy="426.55" r="2.13" fill="#808080"/>
<circle cx="141.77" cy="427.02" r="2.21" fill="#808080"/>
<circle cx="145.21" cy="427.07" r="2.06" fill="#808080"/>
<circle cx="147.11" cy="426.85" r="2.08" fill="#808080"/>
<circle cx="138.38" cy="429.30" r="2.29" fill="#808080"/>
<circle cx="139.89" cy="429.16" r="2.28" fill="#808080"/>
<circle cx="142.99" cy="428.26" r="1.98" fill="#808080"/>
<circle cx="145.01" cy="428.58" r="2.37" fill="#808080"/>
<circle cx="74.30" cy="420.70" r="1.80" fill="#808080"/>
<circle cx="89.10" cy="420.70" r="1.80" fill="#808080"/>
<circle cx="96.40" cy="420.70" r="1.80" fill="#808080"/>
<circle cx="98.50" cy="420.70" r="1.80" fill="#808080"/>
<circle cx="101.50" cy="420.70" r="1.80" fill="#808080"/>
<circle cx="117.70" cy="420.70" r="1.80" fill="#808080"/>
<circle cx="120.00" cy="420.70" r="1.80" fill="#808080"/>
<circle cx="122.50" cy="420.70" r="1.80" fill="#808080"/>
<circle cx="125.00" cy="420.70" r="1.80" fill="#808080"/>
<circle cx="127.50" cy="420.70" r="1.80" fill="#808080"/>
<circle cx="130.00" cy="420.70" r="1.80" fill="#808080"/>
<circle cx="164.30" cy="420.70" r="1.80" fill="#808080"/>
<circle cx="165.50" cy="420.70" r="1.80" fill="#808080"/>
<circle cx="174.90" cy="420.70" r="1.80" fill="#808080"/>
<circle cx="178.50" cy="420.70" r="1.80" fill="#808080"/>
<circle cx="180.80" cy="420.70" r="1.80" fill="#808080"/>
<circle cx="185.60" cy="420.70" r="1.80" fill="#808080"/>
<circle cx="196.20" cy="420.70" r="1.80" fill="#808080"/>
<circle cx="202.10" cy="420.70" r="1.80" fill="#808080"/>
<circle cx="204.50" cy="420.70" r="1.80" fill="#808080"/>
<circle cx="226.90" cy="420.70" r="1.80" fill="#808080"/>
<circle cx="157.20" cy="420.70" r="1.80" fill="#808080"/>
<circle cx="160.00" cy="420.70" r="1.80" fill="#808080"/>
<circle cx="163.50" cy="420.70" r="1.80" fill="#808080"/>
<circle cx="166.10" cy="420.70" r="1.80" fill="#808080"/>
<circle cx="127.90" cy="396.50" r="2.20" fill="#808080"/>
<circle cx="155.90" cy="393.90" r="2.20" fill="#808080"/>
<circle cx="172.90" cy="392.80" r="2.20" fill="#808080"/>
<circle cx="117.10" cy="411.70" r="2.20" fill="#808080"/>
<circle cx="121.50" cy="410.50" r="2.20" fill="#808080"/>
<circle cx="158.50" cy="409.40" r="2.20" fill="#808080"/>
<circle cx="119.60" cy="417.80" r="2.20" fill="#808080"/>
<circle cx="125.40" cy="422.50" r="2.20" fill="#808080"/>
<circle cx="131.10" cy="406.60" r="2.20" fill="#808080"/>
<circle cx="133.60" cy="411.70" r="2.20" fill="#808080"/>
<circle cx="174.40" cy="392.60" r="2.20" fill="#808080"/>
<circle cx="156.00" cy="394.30" r="2.20" fill="#808080"/>
<circle cx="158.40" cy="409.70" r="2.20" fill="#808080"/>
<circle cx="219.80" cy="418.50" r="2.20" fill="#808080"/>
<circle cx="145.61" cy="298.75" r="2.28" fill="#ff0000"/>
<circle cx="146.14" cy="301.67" r="2.30" fill="#ff0000"/>
<circle cx="144.93" cy="305.21" r="2.05" fill="#ff0000"/>
<circle cx="145.15" cy="306.69" r="2.31" fill="#ff0000"/>
<circle cx="146.42" cy="308.75" r="2.26" fill="#ff0000"/>
<circle cx="145.51" cy="310.71" r="2.33" fill="#ff0000"/>
<circle cx="145.40" cy="313.57" r="2.13" fill="#ff0000"/>
<circle cx="145.36" cy="314.67" r="2.05" fill="#ff0000"/>
<circle cx="145.61" cy="318.21" r="2.39" fill="#ff0000"/>
<circle cx="146.59" cy="320.46" r="2.00" fill="#ff0000"/>
<circle cx="145.81" cy="324.86" r="2.10" fill="#ff0000"/>
<circle cx="146.57" cy="326.63" r="2.22" fill="#ff0000"/>
<circle cx="146.08" cy="330.01" r="2.31" fill="#ff0000"/>
<circle cx="145.46" cy="332.08" r="2.26" fill="#ff0000"/>
<circle cx="145.86" cy="335.24" r="2.22" fill="#ff0000"/>
<circle cx="146.10" cy="337.02" r="2.40" fill="#ff0000"/>
<circle cx="146.79" cy="340.05" r="2.38" fill="#ff0000"/>
<circle cx="145.39" cy="342.13" r="2.41" fill="#ff0000"/>
<circle cx="145.80" cy="343.31" r="2.35" fill="#ff0000"/>
<circle cx="146.18" cy="346.06" r="2.39" fill="#ff0000"/>
<circle cx="145.65" cy="348.79" r="2.48" fill="#ff0000"/>
<circle cx="145.37" cy="352.01" r="2.20" fill="#ff0000"/>
<circle cx="145.45" cy="354.62" r="2.00" fill="#ff0000"/>
<circle cx="146.38" cy="356.81" r="2.32" fill="#ff0000"/>
<circle cx="146.08" cy="358.44" r="2.15" fill="#ff0000"/>
<circle cx="146.67" cy="360.39" r="2.02" fill="#ff0000"/>
<circle cx="146.34" cy="363.68" r="2.08" fill="#ff0000"/>
<circle cx="145.77" cy="365.92" r="2.17" fill="#ff0000"/>
<circle cx="146.95" cy="367.32" r="2.27" fill="#ff0000"/>
<circle cx="146.85" cy="369.66" r="2.17" fill="#ff0000"/>
<circle cx="146.79" cy="371.28" r="2.00" fill="#ff0000"/>
<circle cx="146.18" cy="374.42" r="2.13" fill="#ff0000"/>
<circle cx="145.54" cy="375.84" r="2.34" fill="#ff0000"/>
<circle cx="145.92" cy="378.83" r="2.35" fill="#ff0000"/>
<circle cx="145.67" cy="380.42" r="2.37" fill="#ff0000"/>
<circle cx="145.64" cy="383.16" r="2.28" fill="#ff0000"/>
<circle cx="149.40" cy="265.20" r="2.50" fill="#ff0000"/>
<circle cx="145.90" cy="277.00" r="2.50" fill="#ff0000"/>
<circle cx="160.20" cy="281.50" r="2.50" fill="#ff0000"/>
<circle cx="168.10" cy="278.00" r="2.50" fill="#ff0000"/>
<circle cx="148.90" cy="294.70" r="2.50" fill="#ff0000"/>
<circle cx="204.50" cy="302.50" r="2.50" fill="#ff0000"/>
<circle cx="186.50" cy="316.00" r="2.50" fill="#ff0000"/>
<circle cx="170.40" cy="334.00" r="2.50" fill="#ff0000"/>
<circle cx="147.60" cy="305.20" r="2.50" fill="#ff0000"/>
<circle cx="143.90" cy="295.50" r="2.50" fill="#ff0000"/>
<circle cx="149.10" cy="294.60" r="2.50" fill="#ff0000"/>
<circle cx="147.40" cy="305.10" r="2.50" fill="#ff0000"/>
<circle cx="159.50" cy="353.80" r="2.50" fill="#ff0000"/>
<circle cx="152.50" cy="369.90" r="2.50" fill="#ff0000"/>
<circle cx="158.40" cy="378.10" r="2.50" fill="#ff0000"/>
<circle cx="155.10" cy="375.40" r="2.50" fill="#ff0000"/>
<circle cx="149.20" cy="361.30" r="2.50" fill="#ff0000"/>
<circle cx="153.00" cy="369.80" r="2.50" fill="#ff0000"/>
<circle cx="154.90" cy="375.60" r="2.50" fill="#ff0000"/>
<circle cx="148.70" cy="331.40" r="2.50" fill="#ff0000"/>
<circle cx="146.80" cy="326.10" r="2.50" fill="#ff0000"/>
<circle cx="150.50" cy="382.00" r="2.50" fill="#ff0000"/>
<circle cx="151.50" cy="386.50" r="2.50" fill="#ff0000"/>
<circle cx="149.80" cy="372.00" r="2.50" fill="#ff0000"/>
<circle cx="150.60" cy="350.00" r="2.50" fill="#ff0000"/>
<circle cx="151.00" cy="340.00" r="2.50" fill="#ff0000"/>
<circle cx="149.60" cy="388.00" r="2.50" fill="#ff0000"/>
<circle cx="136.98" cy="305.69" r="2.14" fill="#0000ff"/>
<circle cx="139.70" cy="306.63" r="2.10" fill="#0000ff"/>
<circle cx="141.28" cy="305.78" r="2.18" fill="#0000ff"/>
<circle cx="135.81" cy="308.28" r="2.41" fill="#0000ff"/>
<circle cx="139.34" cy="308.28" r="2.06" fill="#0000ff"/>
<circle cx="141.91" cy="307.83" r="1.97" fill="#0000ff"/>
<circle cx="136.17" cy="310.46" r="2.51" fill="#0000ff"/>
<circle cx="139.08" cy="309.65" r="2.27" fill="#0000ff"/>
<circle cx="140.43" cy="309.68" r="2.38" fill="#0000ff"/>
<circle cx="135.23" cy="312.74" r="2.04" fill="#0000ff"/>
<circle cx="138.63" cy="312.12" r="2.08" fill="#0000ff"/>
<circle cx="140.93" cy="312.95" r="2.18" fill="#0000ff"/>
<circle cx="144.14" cy="312.80" r="2.24" fill="#0000ff"/>
<circle cx="136.05" cy="315.03" r="2.48" fill="#0000ff"/>
<circle cx="138.71" cy="314.97" r="2.45" fill="#0000ff"/>
<circle cx="141.23" cy="315.32" r="2.51" fill="#0000ff"/>
<circle cx="143.23" cy="315.04" r="2.42" fill="#0000ff"/>
<circle cx="135.36" cy="316.31" r="2.38" fill="#0000ff"/>
<circle cx="139.96" cy="316.40" r="2.20" fill="#0000ff"/>
<circle cx="143.74" cy="316.17" r="2.13" fill="#0000ff"/>
<circle cx="135.52" cy="319.49" r="2.06" fill="#0000ff"/>
<circle cx="137.72" cy="319.18" r="2.48" fill="#0000ff"/>
<circle cx="139.66" cy="318.55" r="2.08" fill="#0000ff"/>
<circle cx="143.14" cy="319.20" r="2.08" fill="#0000ff"/>
<circle cx="135.01" cy="320.70" r="2.39" fill="#0000ff"/>
<circle cx="137.94" cy="321.73" r="2.23" fill="#0000ff"/>
<circle cx="140.98" cy="321.89" r="2.15" fill="#0000ff"/>
<circle cx="143.59" cy="321.20" r="2.08" fill="#0000ff"/>
<circle cx="136.36" cy="323.88" r="2.18" fill="#0000ff"/>
<circle cx="138.17" cy="323.04" r="2.52" fill="#0000ff"/>
<circle cx="140.22" cy="322.62" r="2.23" fill="#0000ff"/>
<circle cx="143.62" cy="323.74" r="2.30" fill="#0000ff"/>
<circle cx="135.38" cy="325.29" r="2.10" fill="#0000ff"/>
<circle cx="138.45" cy="325.79" r="2.53" fill="#0000ff"/>
<circle cx="140.98" cy="325.02" r="2.40" fill="#0000ff"/>
<circle cx="143.94" cy="326.13" r="2.43" fill="#0000ff"/>
<circle cx="135.84" cy="328.10" r="2.01" fill="#0000ff"/>
<circle cx="138.66" cy="328.48" r="2.29" fill="#0000ff"/>
<circle cx="140.89" cy="328.21" r="2.19" fill="#0000ff"/>
<circle cx="135.84" cy="330.45" r="2.07" fill="#0000ff"/>
<circle cx="139.03" cy="329.38" r="2.43" fill="#0000ff"/>
<circle cx="141.19" cy="329.25" r="2.13" fill="#0000ff"/>
<circle cx="136.66" cy="331.88" r="2.35" fill="#0000ff"/>
<circle cx="138.65" cy="332.04" r="2.51" fill="#0000ff"/>
<circle cx="141.56" cy="331.32" r="2.17" fill="#0000ff"/>
<circle cx="135.71" cy="334.38" r="2.22" fill="#0000ff"/>
<circle cx="139.42" cy="334.75" r="2.07" fill="#0000ff"/>
<circle cx="140.79" cy="334.08" r="2.27" fill="#0000ff"/>
<circle cx="135.68" cy="336.28" r="2.34" fill="#0000ff"/>
<circle cx="137.96" cy="336.82" r="2.14" fill="#0000ff"/>
<circle cx="143.80" cy="336.18" r="2.43" fill="#0000ff"/>
<circle cx="135.18" cy="337.98" r="2.34" fill="#0000ff"/>
<circle cx="137.74" cy="338.47" r="2.44" fill="#0000ff"/>
<circle cx="140.10" cy="338.19" r="2.05" fill="#0000ff"/>
<circle cx="143.10" cy="337.94" r="2.48" fill="#0000ff"/>
<circle cx="135.58" cy="341.04" r="2.40" fill="#0000ff"/>
<circle cx="137.88" cy="340.53" r="2.19" fill="#0000ff"/>
<circle cx="140.41" cy="341.12" r="2.52" fill="#0000ff"/>
<circle cx="143.32" cy="340.97" r="1.97" fill="#0000ff"/>
<circle cx="135.12" cy="343.22" r="2.02" fill="#0000ff"/>
<circle cx="137.89" cy="343.44" r="2.43" fill="#0000ff"/>
<circle cx="139.83" cy="343.40" r="2.47" fill="#0000ff"/>
<circle cx="142.64" cy="342.98" r="2.04" fill="#0000ff"/>
<circle cx="135.97" cy="345.18" r="2.37" fill="#0000ff"/>
<circle cx="137.21" cy="345.86" r="2.32" fill="#0000ff"/>
<circle cx="139.53" cy="344.74" r="2.29" fill="#0000ff"/>
<circle cx="142.42" cy="345.84" r="2.16" fill="#0000ff"/>
<circle cx="134.51" cy="348.08" r="2.03" fill="#0000ff"/>
<circle cx="137.68" cy="347.42" r="2.28" fill="#0000ff"/>
<circle cx="140.76" cy="348.11" r="2.43" fill="#0000ff"/>
<circle cx="142.00" cy="347.84" r="2.12" fill="#0000ff"/>
<circle cx="134.61" cy="349.62" r="2.43" fill="#0000ff"/>
<circle cx="137.60" cy="348.82" r="1.97" fill="#0000ff"/>
<circle cx="140.80" cy="350.20" r="2.33" fill="#0000ff"/>
<circle cx="142.79" cy="349.88" r="2.17" fill="#0000ff"/>
<circle cx="135.42" cy="350.90" r="2.07" fill="#0000ff"/>
<circle cx="136.86" cy="351.49" r="2.28" fill="#0000ff"/>
<circle cx="139.96" cy="351.30" r="2.28" fill="#0000ff"/>
<circle cx="142.66" cy="350.94" r="2.34" fill="#0000ff"/>
<circle cx="135.58" cy="354.01" r="2.23" fill="#0000ff"/>
<circle cx="137.54" cy="354.15" r="2.39" fill="#0000ff"/>
<circle cx="139.82" cy="354.64" r="2.44" fill="#0000ff"/>
<circle cx="142.20" cy="353.74" r="2.28" fill="#0000ff"/>
<circle cx="134.80" cy="356.07" r="2.20" fill="#0000ff"/>
<circle cx="136.97" cy="355.31" r="2.37" fill="#0000ff"/>
<circle cx="140.13" cy="356.18" r="2.39" fill="#0000ff"/>
<circle cx="142.41" cy="355.34" r="2.03" fill="#0000ff"/>
<circle cx="134.68" cy="358.03" r="1.98" fill="#0000ff"/>
<circle cx="137.21" cy="357.78" r="2.13" fill="#0000ff"/>
<circle cx="139.25" cy="357.51" r="2.48" fill="#0000ff"/>
<circle cx="135.18" cy="360.25" r="2.42" fill="#0000ff"/>
<circle cx="137.49" cy="360.48" r="2.47" fill="#0000ff"/>
<circle cx="140.06" cy="359.77" r="2.26" fill="#0000ff"/>
<circle cx="134.16" cy="362.23" r="2.14" fill="#0000ff"/>
<circle cx="137.70" cy="363.05" r="2.18" fill="#0000ff"/>
<circle cx="139.70" cy="361.82" r="1.97" fill="#0000ff"/>
<circle cx="141.76" cy="362.55" r="2.49" fill="#0000ff"/>
<circle cx="136.57" cy="364.40" r="2.49" fill="#0000ff"/>
<circle cx="139.05" cy="365.27" r="2.16" fill="#0000ff"/>
<circle cx="141.51" cy="365.33" r="2.53" fill="#0000ff"/>
<circle cx="134.72" cy="366.41" r="2.46" fill="#0000ff"/>
<circle cx="136.37" cy="367.26" r="2.13" fill="#0000ff"/>
<circle cx="140.10" cy="367.24" r="2.03" fill="#0000ff"/>
<circle cx="142.71" cy="366.81" r="2.00" fill="#0000ff"/>
<circle cx="134.17" cy="369.41" r="2.07" fill="#0000ff"/>
<circle cx="136.55" cy="369.34" r="2.41" fill="#0000ff"/>
<circle cx="139.73" cy="369.69" r="2.29" fill="#0000ff"/>
<circle cx="141.66" cy="369.76" r="2.34" fill="#0000ff"/>
<circle cx="134.67" cy="370.59" r="2.52" fill="#0000ff"/>
<circle cx="136.99" cy="371.30" r="1.98" fill="#0000ff"/>
<circle cx="139.10" cy="370.85" r="2.42" fill="#0000ff"/>
<circle cx="141.60" cy="371.66" r="2.10" fill="#0000ff"/>
<circle cx="134.49" cy="372.92" r="2.47" fill="#0000ff"/>
<circle cx="139.35" cy="373.83" r="2.18" fill="#0000ff"/>
<circle cx="141.91" cy="372.91" r="2.27" fill="#0000ff"/>
<circle cx="134.16" cy="375.85" r="2.41" fill="#0000ff"/>
<circle cx="136.89" cy="376.15" r="2.35" fill="#0000ff"/>
<circle cx="140.11" cy="375.08" r="2.40" fill="#0000ff"/>
<circle cx="142.06" cy="375.18" r="2.21" fill="#0000ff"/>
<circle cx="134.81" cy="378.24" r="2.09" fill="#0000ff"/>
<circle cx="136.41" cy="377.90" r="2.24" fill="#0000ff"/>
<circle cx="139.51" cy="378.12" r="2.28" fill="#0000ff"/>
<circle cx="141.34" cy="377.22" r="1.97" fill="#0000ff"/>
<circle cx="134.22" cy="379.86" r="2.11" fill="#0000ff"/>
<circle cx="136.14" cy="380.60" r="2.28" fill="#0000ff"/>
<circle cx="139.79" cy="379.53" r="2.04" fill="#0000ff"/>
<circle cx="141.09" cy="379.65" r="2.31" fill="#0000ff"/>
<circle cx="133.92" cy="382.27" r="2.01" fill="#0000ff"/>
<circle cx="136.27" cy="381.73" r="2.05" fill="#0000ff"/>
<circle cx="139.82" cy="382.58" r="1.99" fill="#0000ff"/>
<circle cx="141.58" cy="381.67" r="2.51" fill="#0000ff"/>
<circle cx="134.25" cy="384.72" r="2.52" fill="#0000ff"/>
<circle cx="136.69" cy="384.69" r="1.98" fill="#0000ff"/>
<circle cx="139.89" cy="383.73" r="2.18" fill="#0000ff"/>
<circle cx="141.64" cy="383.62" r="1.97" fill="#0000ff"/>
<circle cx="137.11" cy="386.04" r="2.10" fill="#0000ff"/>
<circle cx="138.82" cy="386.41" r="2.49" fill="#0000ff"/>
<circle cx="141.47" cy="387.24" r="2.31" fill="#0000ff"/>
<circle cx="134.05" cy="388.89" r="1.99" fill="#0000ff"/>
<circle cx="137.02" cy="389.23" r="2.29" fill="#0000ff"/>
<circle cx="139.14" cy="388.48" r="2.44" fill="#0000ff"/>
<circle cx="142.15" cy="388.19" r="2.15" fill="#0000ff"/>
<circle cx="140.90" cy="252.70" r="2.50" fill="#0000ff"/>
<circle cx="138.90" cy="285.00" r="2.50" fill="#0000ff"/>
<circle cx="139.10" cy="297.40" r="2.50" fill="#0000ff"/>
<circle cx="135.60" cy="299.10" r="2.50" fill="#0000ff"/>
<circle cx="133.00" cy="304.40" r="2.50" fill="#0000ff"/>
<circle cx="134.30" cy="307.70" r="2.50" fill="#0000ff"/>
<circle cx="142.20" cy="303.10" r="2.50" fill="#0000ff"/>
<circle cx="140.90" cy="309.70" r="2.50" fill="#0000ff"/>
<circle cx="132.30" cy="319.90" r="2.50" fill="#0000ff"/>
<circle cx="90.70" cy="287.20" r="2.50" fill="#0000ff"/>
<circle cx="94.50" cy="317.20" r="2.50" fill="#0000ff"/>
<circle cx="117.10" cy="343.70" r="2.50" fill="#0000ff"/>
<circle cx="106.60" cy="349.80" r="2.50" fill="#0000ff"/>
<circle cx="130.90" cy="359.00" r="2.50" fill="#0000ff"/>
<circle cx="124.30" cy="367.80" r="2.50" fill="#0000ff"/>
<circle cx="122.10" cy="378.10" r="2.50" fill="#0000ff"/>
<circle cx="122.60" cy="386.20" r="2.50" fill="#0000ff"/>
<circle cx="132.20" cy="371.20" r="2.50" fill="#0000ff"/>
<circle cx="117.00" cy="343.20" r="2.50" fill="#0000ff"/>
<circle cx="136.30" cy="299.80" r="2.50" fill="#0000ff"/>
<line x1="143.60" y1="239.60" x2="143.60" y2="432.50" stroke="#333" stroke-width="0.9" stroke-dasharray="1.6 1.2" stroke-linecap="butt"/>
<line x1="40.00" y1="390.80" x2="246.00" y2="390.80" stroke="#333" stroke-width="0.9" stroke-dasharray="1.6 1.2" stroke-linecap="butt"/>
<rect x="36.20" y="239.60" width="214.80" height="192.90" fill="none" stroke="#7a7a7a" stroke-width="1.2"/>
<circle cx="202.60" cy="257.00" r="3.00" fill="#ff0000"/>
<text x="207.50" y="259.80" font-size="8.35" text-anchor="start" fill="#222">up(443)</text>
<circle cx="202.60" cy="264.90" r="3.00" fill="#808080"/>
<text x="207.50" y="267.70" font-size="8.35" text-anchor="start" fill="#222">nosig(4463)</text>
<circle cx="202.60" cy="272.80" r="3.00" fill="#0000ff"/>
<text x="207.50" y="275.60" font-size="8.35" text-anchor="start" fill="#222">down(471)</text>
<text x="225.40" y="290.10" font-size="7.8" text-anchor="middle" fill="#222">VIP</text>
<circle cx="221.20" cy="295.90" r="0.60" fill="#000"/>
<text x="227.30" y="298.50" font-size="7.8" text-anchor="start" fill="#222">0.0</text>
<circle cx="221.20" cy="303.40" r="1.30" fill="#000"/>
<text x="227.30" y="306.00" font-size="7.8" text-anchor="start" fill="#222">0.5</text>
<circle cx="221.20" cy="311.30" r="1.90" fill="#000"/>
<text x="227.30" y="313.90" font-size="7.8" text-anchor="start" fill="#222">0.9</text>
<circle cx="221.20" cy="319.50" r="2.40" fill="#000"/>
<text x="227.30" y="322.10" font-size="7.8" text-anchor="start" fill="#222">1.4</text>
<text x="130.30" y="451.40" font-size="10" text-anchor="start" fill="#222" textLength="31.90" lengthAdjust="spacingAndGlyphs">Log<tspan font-size="5.8" dy="0.8">2</tspan><tspan dy="-0.8">FC</tspan></text>
<text x="21.50" y="327.40" font-size="9.4" text-anchor="middle" fill="#222" transform="rotate(-90 21.50 327.40)">-Log<tspan font-size="5.5" dy="1.5">10</tspan><tspan dy="-1.5">(</tspan><tspan font-style="italic">p</tspan> value)</text>
<text x="18.30" y="235.70" font-size="11.5" text-anchor="start" fill="#111">B</text>
<rect x="326.00" y="243.81" width="19.20" height="108.39" fill="#0000ff"/>
<rect x="345.20" y="273.37" width="20.00" height="78.83" fill="#00ff00"/>
<line x1="345.20" y1="352.20" x2="345.20" y2="354.60" stroke="#222" stroke-width="0.9" stroke-linecap="butt"/>
<text x="337.00" y="241.91" font-size="7.3" text-anchor="start" fill="#333" transform="rotate(-36 337.00 241.91)">28.6%</text>
<text x="356.60" y="271.47" font-size="7.3" text-anchor="start" fill="#333" transform="rotate(-36 356.60 271.47)">20.8%</text>
<rect x="369.00" y="306.34" width="19.20" height="45.86" fill="#0000ff"/>
<rect x="388.20" y="312.78" width="20.00" height="39.42" fill="#00ff00"/>
<line x1="388.20" y1="352.20" x2="388.20" y2="354.60" stroke="#222" stroke-width="0.9" stroke-linecap="butt"/>
<text x="380.00" y="304.44" font-size="7.3" text-anchor="start" fill="#333" transform="rotate(-36 380.00 304.44)">12.1%</text>
<text x="399.60" y="310.88" font-size="7.3" text-anchor="start" fill="#333" transform="rotate(-36 399.60 310.88)">10.4%</text>
<rect x="413.50" y="323.02" width="17.70" height="29.18" fill="#0000ff"/>
<rect x="431.20" y="332.49" width="20.00" height="19.71" fill="#00ff00"/>
<line x1="431.20" y1="352.20" x2="431.20" y2="354.60" stroke="#222" stroke-width="0.9" stroke-linecap="butt"/>
<text x="423.75" y="321.12" font-size="7.3" text-anchor="start" fill="#333" transform="rotate(-36 423.75 321.12)">7.7%</text>
<text x="442.60" y="330.59" font-size="7.3" text-anchor="start" fill="#333" transform="rotate(-36 442.60 330.59)">5.2%</text>
<rect x="455.20" y="331.36" width="19.30" height="20.84" fill="#0000ff"/>
<rect x="474.50" y="337.42" width="19.80" height="14.78" fill="#00ff00"/>
<line x1="474.50" y1="352.20" x2="474.50" y2="354.60" stroke="#222" stroke-width="0.9" stroke-linecap="butt"/>
<text x="466.25" y="329.46" font-size="7.3" text-anchor="start" fill="#333" transform="rotate(-36 466.25 329.46)">5.5%</text>
<text x="485.80" y="335.52" font-size="7.3" text-anchor="start" fill="#333" transform="rotate(-36 485.80 335.52)">3.9%</text>
<rect x="498.20" y="331.36" width="19.60" height="20.84" fill="#0000ff"/>
<rect x="517.80" y="332.49" width="19.70" height="19.71" fill="#00ff00"/>
<line x1="517.80" y1="352.20" x2="517.80" y2="354.60" stroke="#222" stroke-width="0.9" stroke-linecap="butt"/>
<text x="509.40" y="329.46" font-size="7.3" text-anchor="start" fill="#333" transform="rotate(-36 509.40 329.46)">5.5%</text>
<text x="529.05" y="330.59" font-size="7.3" text-anchor="start" fill="#333" transform="rotate(-36 529.05 330.59)">5.2%</text>
<line x1="316.70" y1="238.00" x2="316.70" y2="352.70" stroke="#222" stroke-width="1" stroke-linecap="butt"/>
<line x1="316.20" y1="352.20" x2="541.50" y2="352.20" stroke="#222" stroke-width="1.1" stroke-linecap="butt"/>
<line x1="316.70" y1="352.20" x2="319.60" y2="352.20" stroke="#222" stroke-width="1" stroke-linecap="butt"/>
<text x="313.40" y="354.80" font-size="7.6" text-anchor="end" fill="#444" style="stroke:none">0</text>
<line x1="316.70" y1="333.25" x2="319.60" y2="333.25" stroke="#222" stroke-width="1" stroke-linecap="butt"/>
<text x="313.40" y="335.85" font-size="7.6" text-anchor="end" fill="#444" style="stroke:none">5</text>
<line x1="316.70" y1="314.30" x2="319.60" y2="314.30" stroke="#222" stroke-width="1" stroke-linecap="butt"/>
<text x="313.40" y="316.90" font-size="7.6" text-anchor="end" fill="#444" style="stroke:none">10</text>
<line x1="316.70" y1="295.35" x2="319.60" y2="295.35" stroke="#222" stroke-width="1" stroke-linecap="butt"/>
<text x="313.40" y="297.95" font-size="7.6" text-anchor="end" fill="#444" style="stroke:none">15</text>
<line x1="316.70" y1="276.40" x2="319.60" y2="276.40" stroke="#222" stroke-width="1" stroke-linecap="butt"/>
<text x="313.40" y="279.00" font-size="7.6" text-anchor="end" fill="#444" style="stroke:none">20</text>
<line x1="316.70" y1="257.45" x2="319.60" y2="257.45" stroke="#222" stroke-width="1" stroke-linecap="butt"/>
<text x="313.40" y="260.05" font-size="7.6" text-anchor="end" fill="#444" style="stroke:none">25</text>
<line x1="316.70" y1="238.50" x2="319.60" y2="238.50" stroke="#222" stroke-width="1" stroke-linecap="butt"/>
<text x="313.40" y="241.10" font-size="7.6" text-anchor="end" fill="#444" style="stroke:none">30</text>
<text x="347.90" y="355.90" font-size="7.7" text-anchor="end" fill="#222" transform="rotate(-48 347.90 355.90)" textLength="116.50" lengthAdjust="spacingAndGlyphs">Amino acids, peptides, and analogues</text>
<text x="390.90" y="355.90" font-size="7.7" text-anchor="end" fill="#222" transform="rotate(-48 390.90 355.90)" textLength="50.50" lengthAdjust="spacingAndGlyphs">Fatty acid esters</text>
<text x="433.90" y="355.90" font-size="7.7" text-anchor="end" fill="#222" transform="rotate(-48 433.90 355.90)" textLength="59.50" lengthAdjust="spacingAndGlyphs">Terpene glycosides</text>
<text x="477.20" y="355.90" font-size="6.6" text-anchor="end" fill="#222" transform="rotate(-48 477.20 355.90)" textLength="117.00" lengthAdjust="spacingAndGlyphs">Carbohydrates and carbohydrate conjugates</text>
<text x="520.50" y="355.90" font-size="7.7" text-anchor="end" fill="#222" transform="rotate(-48 520.50 355.90)" textLength="83.50" lengthAdjust="spacingAndGlyphs">Fatty acids and conjugates</text>
<rect x="424.00" y="265.40" width="12.00" height="3.60" fill="#0000ff"/>
<rect x="424.00" y="278.70" width="12.00" height="3.60" fill="#00ff00"/>
<text x="443.60" y="269.80" font-size="8.1" text-anchor="start" fill="#222" textLength="59.20" lengthAdjust="spacingAndGlyphs">L9+HYY vs HYY</text>
<text x="443.60" y="283.10" font-size="8.1" text-anchor="start" fill="#222" textLength="66.60" lengthAdjust="spacingAndGlyphs">LAC+HYY vs HYY</text>
<text x="299.70" y="295.60" font-size="7.9" text-anchor="middle" fill="#222" transform="rotate(-90 299.70 295.60)" textLength="128.00" lengthAdjust="spacingAndGlyphs" style="stroke:none">Proportion of differential substances (%)</text>
<text x="277.60" y="245.60" font-size="12" text-anchor="start" fill="#111">D</text>
</svg></body></html>
